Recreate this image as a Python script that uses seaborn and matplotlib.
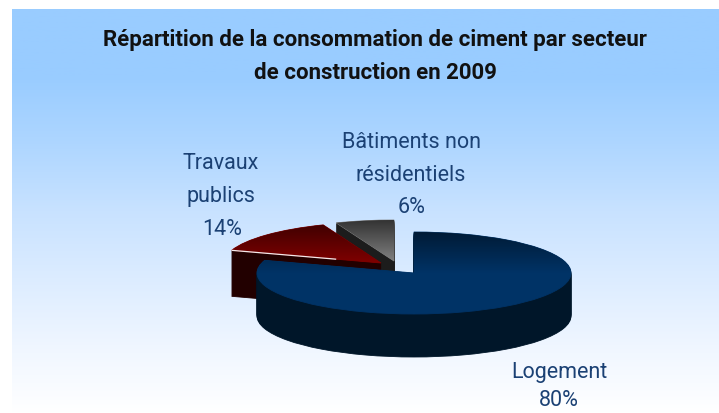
import numpy as np
import matplotlib
matplotlib.use("Agg")
import matplotlib.pyplot as plt
import seaborn as sns

# Données
secteurs = ["Logement", "Travaux publics", "Bâtiments non résidentiels"]
parts = [80, 14, 6]
titre = ["Répartition de la consommation de ciment par secteur", "de construction en 2009"]

W, H = 719, 413
RX, RY = 157, 41
ECH = RX / RY

sns.set_theme(style="white")
plt.rcParams["font.family"] = ["Roboto", "DejaVu Sans"]

fig = plt.figure(figsize=(W / 100, H / 100), dpi=100)
ax = fig.add_axes([0, 0, 1, 1])


def py(y):
    # pixel (depuis le haut) vers coordonnée de l'axe écrasé
    return (H - y) * ECH


def degrade(couleurs, x0, x1, y0, y1, clip=None, zorder=1):
    cmap = sns.blend_palette(couleurs, as_cmap=True)
    grad = np.linspace(0, 1, 256).reshape(-1, 1)
    im = ax.imshow(grad, cmap=cmap, aspect="auto", origin="upper",
                   extent=[x0, x1, py(y1), py(y0)], zorder=zorder)
    if clip is not None:
        im.set_clip_path(clip)
    return im


def part_seule(i, cx, cy, couleur, zorder):
    # dessine toute la tarte mais ne garde que la part i
    w, _ = ax.pie(parts, startangle=90, counterclock=False, radius=RX,
                  center=(cx, py(cy)), frame=True)
    for j, wedge in enumerate(w):
        wedge.set_visible(j == i)
    w[i].set_facecolor(couleur)
    w[i].set_edgecolor(couleur)
    w[i].set_linewidth(0.6)
    w[i].set_zorder(zorder)
    return w[i]


# Fond
degrade(["#99ccff", "#99ccff", "#aed6ff", "#c8e2ff", "#dcecff", "#eff6ff", "#ffffff"],
        12, W, 9, H, zorder=0)

# Part, centre, épaisseur, couleur de flanc, dégradé du dessus (de l'arrière vers l'avant)
styles = {
    2: ((394, 261), 42, "#1c1c1c", ["#333333", "#808080"]),
    1: ((381, 263), 46, "#220000", ["#3c0000", "#800000"]),
    0: ((414, 273), 43, "#001629", ["#001b36", "#003366"]),
}

z = 2
for i in [2, 1, 0]:
    (cx, cy), prof, flanc, dessus = styles[i]
    # épaisseur : la même part empilée, du bas vers le haut
    for d in range(prof, 0, -1):
        part_seule(i, cx, cy + d, flanc, z)
        z += 1
    dessus_part = part_seule(i, cx, cy, dessus[-1], z)
    z += 1
    degrade(dessus, cx - RX - 2, cx + RX + 2, cy - RY, cy, clip=dessus_part, zorder=z)
    z += 1
    if i == 1:
        # liseré clair sur le bord avant de la part rouge
        w_ang = np.radians(90 - 360 * parts[0] / sum(parts))
        r = np.array([RX, RX * 0.3])
        ax.plot(cx + r * np.cos(w_ang), py(cy) + r * np.sin(w_ang),
                color="#f4e8ea", lw=0.9, solid_capstyle="butt", zorder=z)
        z += 1

ax.set_aspect("auto")
ax.set_xlim(0, W)
ax.set_ylim(0, H * ECH)
ax.axis("off")


def texte(x, y, s, **kw):
    fig.text(x / W, 1 - y / H, s, ha="center", va="baseline", **kw)


texte(375, 46, titre[0], fontsize=16, fontweight="bold", color="#111111")
texte(375, 79, titre[1], fontsize=16, fontweight="bold", color="#111111")

BLEU = "#1b4174"
TAILLE = 15.5
texte(411, 148, "Bâtiments non", fontsize=TAILLE, color=BLEU)
texte(411, 181, "résidentiels", fontsize=TAILLE, color=BLEU)
texte(412, 213, f"{parts[2]}%", fontsize=TAILLE, color=BLEU)
texte(221, 169, "Travaux", fontsize=TAILLE, color=BLEU)
texte(221, 202, "publics", fontsize=TAILLE, color=BLEU)
texte(222, 235, f"{parts[1]}%", fontsize=TAILLE, color=BLEU)
texte(559, 378, secteurs[0], fontsize=TAILLE, color=BLEU)
texte(559, 406, f"{parts[0]}%", fontsize=TAILLE, color=BLEU)

fig.savefig("out.png", dpi=100)
